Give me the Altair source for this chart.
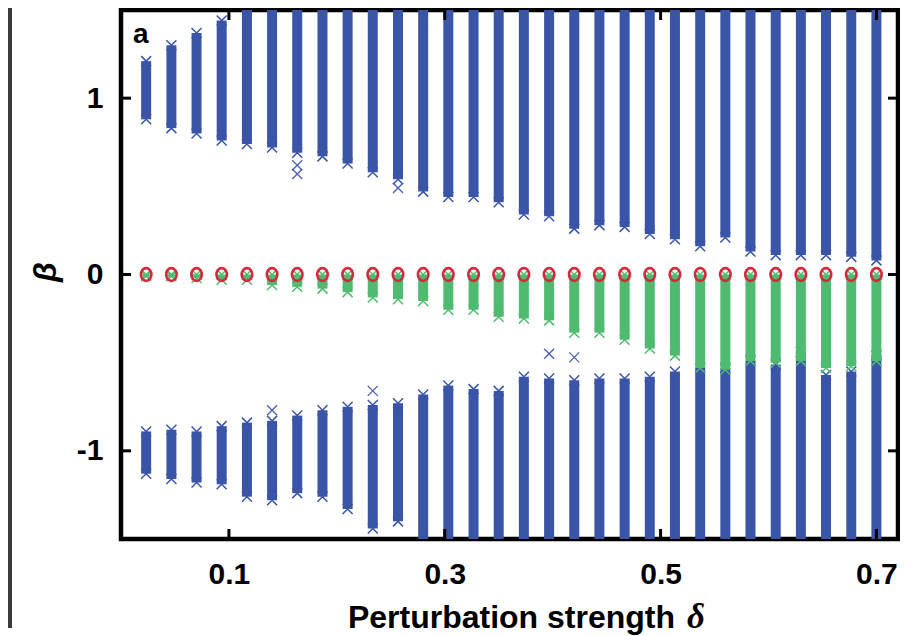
import altair as alt
import pandas as pd

# ---------------- data ----------------
delta = [0.0233, 0.0467, 0.0700, 0.0933, 0.1167, 0.1400, 0.1633, 0.1867, 0.2100, 0.2333,
         0.2567, 0.2800, 0.3033, 0.3267, 0.3500, 0.3733, 0.3967, 0.4200, 0.4433, 0.4667,
         0.4900, 0.5133, 0.5367, 0.5600, 0.5833, 0.6067, 0.6300, 0.6533, 0.6767, 0.7000]

upper_hi = [1.21, 1.30, 1.37, 1.44, 1.60, 1.60, 1.60, 1.60, 1.60, 1.60,
            1.60, 1.60, 1.60, 1.60, 1.60, 1.60, 1.60, 1.60, 1.60, 1.60,
            1.60, 1.60, 1.60, 1.60, 1.60, 1.60, 1.60, 1.60, 1.60, 1.60]
upper_lo = [0.88, 0.83, 0.80, 0.76, 0.74, 0.72, 0.69, 0.67, 0.63, 0.58,
            0.54, 0.47, 0.44, 0.44, 0.41, 0.34, 0.33, 0.26, 0.28, 0.27,
            0.23, 0.20, 0.16, 0.21, 0.13, 0.11, 0.11, 0.11, 0.10, 0.08]

green_hi = [0.0, 0.0, 0.0, 0.0, 0.0, 0.0, 0.0, 0.0, 0.0, 0.0,
            0.0, 0.0, 0.0, 0.0, 0.0, 0.0, 0.0, 0.0, 0.0, 0.0,
            0.0, 0.0, 0.0, 0.0, 0.0, 0.0, 0.0, 0.0, 0.0, 0.0]
green_lo = [-0.01, -0.01, -0.02, -0.03, -0.03, -0.06, -0.07, -0.08, -0.10, -0.13,
            -0.14, -0.15, -0.20, -0.20, -0.24, -0.25, -0.26, -0.33, -0.33, -0.37,
            -0.42, -0.46, -0.53, -0.54, -0.49, -0.50, -0.49, -0.53, -0.52, -0.49]

lower_hi = [-0.89, -0.88, -0.89, -0.86, -0.84, -0.83, -0.80, -0.77, -0.75, -0.74,
            -0.73, -0.68, -0.63, -0.65, -0.66, -0.58, -0.59, -0.60, -0.59, -0.59,
            -0.58, -0.55, -0.53, -0.53, -0.49, -0.51, -0.44, -0.57, -0.55, -0.46]
lower_lo = [-1.13, -1.16, -1.18, -1.19, -1.26, -1.28, -1.24, -1.26, -1.33, -1.44,
            -1.40, -1.60, -1.60, -1.60, -1.60, -1.60, -1.60, -1.60, -1.60, -1.60,
            -1.60, -1.60, -1.60, -1.60, -1.60, -1.60, -1.60, -1.60, -1.60, -1.60]

outlier_delta = [0.1633, 0.1633, 0.2567, 0.1400, 0.2333, 0.3967, 0.4200]
outlier_beta = [0.57, 0.62, 0.49, -0.77, -0.66, -0.45, -0.47]

fixed_beta = [0.0, 0.0, 0.0, 0.0, 0.0, 0.0, 0.0, 0.0, 0.0, 0.0,
              0.0, 0.0, 0.0, 0.0, 0.0, 0.0, 0.0, 0.0, 0.0, 0.0,
              0.0, 0.0, 0.0, 0.0, 0.0, 0.0, 0.0, 0.0, 0.0, 0.0]

x_ticks = [0.1, 0.3, 0.5, 0.7]
y_ticks = [-1, 0, 1]

# ---------------- styling ----------------
W, H = 777, 529
BLUE = "#3a55a8"
GREEN = "#4fbb70"
RED = "#d9263a"
FONT = "Liberation Sans"
XSHAPE = "M-1,-1L1,1M-1,1L1,-1"
ELLIPSE = "M0,-1A0.82,1,0,1,1,0,1A0.82,1,0,1,1,0,-1Z"

xs = alt.Scale(domain=[0, 0.72], nice=False, zero=False)
ys = alt.Scale(domain=[-1.5, 1.5], nice=False, zero=False)

x_axis = alt.Axis(values=x_ticks, format=".1f", domain=False, ticks=False, tickSize=0,
                  grid=False, labelFont=FONT, labelFontWeight="bold", labelFontSize=30,
                  labelColor="black", labelPadding=20, title=None)
y_axis = alt.Axis(values=y_ticks, labelExpr="'' + datum.value", domain=False, ticks=False,
                  tickSize=0, grid=False, labelFont=FONT, labelFontWeight="bold",
                  labelFontSize=30, labelColor="black", labelPadding=18, title=None)


def XE(field):
    return alt.X(field, scale=xs, axis=x_axis)


def YE(field):
    return alt.Y(field, scale=ys, axis=y_axis)


def band_layer(hi, lo, color):
    rules = alt.Chart(pd.DataFrame({"delta": delta, "hi": hi, "lo": lo})).mark_rule(
        strokeWidth=10, color=color, clip=True, strokeCap="butt"
    ).encode(x=XE("delta:Q"), y=YE("hi:Q"), y2="lo:Q")
    ends = alt.Chart(pd.DataFrame({"delta": delta + delta, "beta": hi + lo})).mark_point(
        shape=XSHAPE, size=100, filled=False, strokeWidth=1.5, color=color, clip=True, opacity=1
    ).encode(x=XE("delta:Q"), y=YE("beta:Q"))
    return rules + ends


upper = band_layer(upper_hi, upper_lo, BLUE)
lower = band_layer(lower_hi, lower_lo, BLUE)
green = band_layer(green_hi, green_lo, GREEN)

outliers = alt.Chart(pd.DataFrame({"delta": outlier_delta, "beta": outlier_beta})).mark_point(
    shape=XSHAPE, size=100, filled=False, strokeWidth=1.4, color=BLUE, clip=True, opacity=0.9
).encode(x=XE("delta:Q"), y=YE("beta:Q"))

circles = alt.Chart(pd.DataFrame({"delta": delta, "beta": fixed_beta})).mark_point(
    shape=ELLIPSE, size=165, filled=False, strokeWidth=2.6, color=RED, opacity=1, clip=True
).encode(x=XE("delta:Q"), y=YE("beta:Q"))

# inward ticks on all four sides
xt = pd.DataFrame({"delta": x_ticks})
yt = pd.DataFrame({"beta": y_ticks})
tick_bottom = alt.Chart(xt).mark_rule(color="black", strokeWidth=3).encode(
    x=XE("delta:Q"), y=alt.value(H), y2=alt.value(H - 10))
tick_top = alt.Chart(xt).mark_rule(color="black", strokeWidth=3).encode(
    x=XE("delta:Q"), y=alt.value(0), y2=alt.value(10))
tick_left = alt.Chart(yt).mark_rule(color="black", strokeWidth=3).encode(
    y=YE("beta:Q"), x=alt.value(0), x2=alt.value(10))
tick_right = alt.Chart(yt).mark_rule(color="black", strokeWidth=3).encode(
    y=YE("beta:Q"), x=alt.value(W), x2=alt.value(W - 10))

one = pd.DataFrame({"t": [0]})
panel_label = alt.Chart(one).mark_text(
    text="a", font=FONT, fontWeight="bold", fontSize=28, align="left", baseline="alphabetic",
    color="black"
).encode(x=alt.value(12), y=alt.value(33))

y_title = alt.Chart(one).mark_text(
    text="β", font=FONT, fontWeight="bold", fontStyle="italic", fontSize=32, angle=270,
    align="center", baseline="middle", color="black"
).encode(x=alt.value(-75), y=alt.value(262))

x_title_main = alt.Chart(one).mark_text(
    text="Perturbation strength", font=FONT, fontWeight="bold", fontSize=32, align="right",
    baseline="alphabetic", color="black"
).encode(x=alt.value(554), y=alt.value(618))

x_title_delta = alt.Chart(one).mark_text(
    text="δ", font="Liberation Serif", fontStyle="italic", fontWeight="bold", fontSize=35,
    align="left", baseline="alphabetic", color="black"
).encode(x=alt.value(566), y=alt.value(618))

strip = alt.Chart(one).mark_rect(color="#3a3a3a").encode(
    x=alt.value(-113), x2=alt.value(-109), y=alt.value(-2), y2=alt.value(H + 89))

chart = alt.layer(
    upper, lower, outliers, green, circles,
    tick_bottom, tick_top, tick_left, tick_right,
    panel_label, y_title, x_title_main, x_title_delta, strip,
).properties(
    width=W, height=H, padding=0, background="white"
).configure_view(
    stroke="black", strokeWidth=4.5
)

chart.save("out.html", embed_options={"renderer": "svg", "actions": False})
